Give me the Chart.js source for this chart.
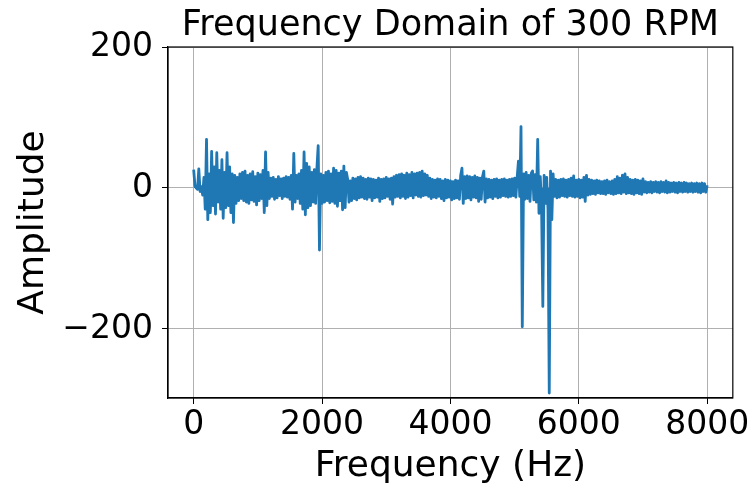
<!DOCTYPE html>
<html>
<head>
<meta charset="utf-8">
<script src="https://cdn.jsdelivr.net/npm/chart.js@4.4.1/dist/chart.umd.min.js"></script>
<style>
  body { margin: 0; background: #fff; }
  #wrap { width: 752px; height: 489px; }
</style>
</head>
<body>
<div id="wrap"><canvas id="fftChart" width="752" height="489"></canvas></div>
<script>
// FFT bins, 20 Hz apart, 0 .. 8000 Hz
var freqStep = 20;
var amplitude = [
  26, 3, 0, -2, 27, -5, 2, -10, 15, -30, 69, -45, 20, -35, 52, -25, 30, -37, 50, -20,
  25, -30, 40, -43, 22, -28, 50, -25, 30, -35, 20, -49, 18, -22, 15, -18, 20, -15, 22, -18,
  24, -20, 18, -22, 20, -17, 23, -19, 16, -24, 21, -18, 19, -15, 25, -35, 51, -25, 22, -15,
  14, -12, 15, -16, 12, -14, 16, -11, 13, -15, 14, -12, 16, -13, 15, -16, 18, -30, 49, -20,
  18, -15, 20, -22, 25, -30, 51, -38, 35, -28, 30, -25, 22, -20, 26, -22, 28, 60, -88, 20,
  -22, 18, -20, 22, -18, 24, -21, 20, -19, 28, -22, 25, -26, 21, -18, 24, -31, 31, -28, 22,
  12, -20, 10, -18, 14, -15, 13, -17, 15, -14, 16, -13, 14, -15, 12, -16, 14, -13, 13, -18,
  12, -14, 11, -13, 14, -19, 12, -15, 13, -14, 15, -12, 13, -16, 14, -23, 16, -13, 18, -12,
  19, -14, 20, -12, 18, -15, 21, -13, 19, -11, 22, -14, 20, -10, 21, -12, 22, -13, 24, -11,
  20, -10, 18, -12, 14, -15, 12, -13, 11, -14, 13, -12, 12, -15, 10, -18, 12, -14, 11, -13,
  10, -17, 9, -15, 11, -14, 10, -16, 18, 28, -22, 16, -15, 17, -14, 16, -17, 15, -13, 17,
  -14, 15, -19, 14, -16, 16, 24, -20, 13, -14, 12, -13, 11, -15, 12, -12, 13, -14, 11, -13,
  12, -11, 13, -12, 11, -13, 12, -12, 13, -11, 14, -13, 15, 38, -12, 87, -197, 20, -16, 22,
  -15, 18, -19, 21, 24, -17, 19, -20, 69, -36, 16, -25, -168, 18, -22, 15, -30, -291, 24, -45,
  20, -12, 12, -14, 11, -13, 12, -11, 13, -12, 11, -13, 12, -11, 14, -12, 17, -13, 11, -12,
  12, -14, 11, -13, 15, -19, 18, -10, 12, -9, 11, -8, 10, -9, 11, -7, 10, -8, 9, -8,
  10, -9, 11, -7, 9, -8, 10, -9, 12, -8, 16, -7, 14, -8, 18, -6, 20, -8, 15, -7,
  12, -8, 11, -9, 12, -7, 11, -8, 10, -9, 13, -6, 9, -7, 8, -6, 9, -7, 8, -5,
  9, -6, 8, -7, 9, -5, 8, -6, 10, -7, 8, -6, 7, -5, 8, -6, 7, -7, 8, -5,
  7, -6, 8, -5, 7, -6, 6, -5, 7, -6, 6, -5, 7, -6, 6, -7, 7, -5, 6, -6,
  4
];
var xTicks = [0, 2000, 4000, 6000, 8000];
var yTicks = [-200, 0, 200];
var titleText = "Frequency Domain of 300 RPM";

var points = amplitude.map(function (a, i) { return {x: i * freqStep, y: a}; });

var fontName = "'DejaVu Sans', sans-serif";

// matplotlib style frame on all four sides + title centred over the axes
var framePlugin = {
  id: "frame",
  afterDatasetsDraw: function (chart) {
    var a = chart.chartArea, ctx = chart.ctx;
    ctx.save();
    ctx.strokeStyle = "#000";
    ctx.lineWidth = 1.2;
    ctx.strokeRect(a.left, a.top, a.right - a.left, a.bottom - a.top);
    ctx.fillStyle = "#000";
    ctx.font = "35px " + fontName;
    ctx.textAlign = "center";
    ctx.textBaseline = "middle";
    ctx.fillText(titleText, (a.left + a.right) / 2, 26);
    ctx.restore();
  }
};

new Chart("fftChart", {
  type: "line",
  data: {
    datasets: [{
      data: points,
      borderColor: "#1f77b4",
      backgroundColor: "#1f77b4",
      borderWidth: 2.8,
      borderJoinStyle: "round",
      pointRadius: 0,
      tension: 0,
      fill: "origin"
    }]
  },
  plugins: [framePlugin],
  options: {
    responsive: false,
    animation: false,
    devicePixelRatio: 1,
    layout: {padding: {left: 0, right: 19, top: 47, bottom: 0}},
    plugins: {
      legend: {display: false},
      tooltip: {enabled: false},
      title: {display: false}
    },
    scales: {
      x: {
        type: "linear",
        min: -400,
        max: 8400,
        afterBuildTicks: function (s) { s.ticks = xTicks.map(function (v) { return {value: v}; }); },
        afterFit: function (s) { s.height = 91; },
        ticks: {
          color: "#000", font: {family: fontName, size: 33}, padding: 2, maxRotation: 0,
          callback: function (v) { return String(v); }
        },
        grid: {color: "#b0b0b0", lineWidth: 1, tickColor: "#000", tickLength: 6},
        border: {color: "#000", width: 1.2},
        title: {display: true, text: "Frequency (Hz)", color: "#000",
                font: {family: fontName, size: 36}, padding: {top: 0, bottom: 1}}
      },
      y: {
        min: -298,
        max: 200,
        afterBuildTicks: function (s) { s.ticks = yTicks.map(function (v) { return {value: v}; }); },
        afterFit: function (s) { s.width = 168; },
        ticks: {
          color: "#000", font: {family: fontName, size: 33}, padding: 9,
          callback: function (v) { return String(v).replace("-", "\u2212"); }
        },
        grid: {color: "#b0b0b0", lineWidth: 1, tickColor: "#000", tickLength: 6},
        border: {color: "#000", width: 1.2},
        title: {display: true, text: "Amplitude", color: "#000",
                font: {family: fontName, size: 36}, padding: {top: 12, bottom: 0}}
      }
    }
  }
});
</script>
</body>
</html>
